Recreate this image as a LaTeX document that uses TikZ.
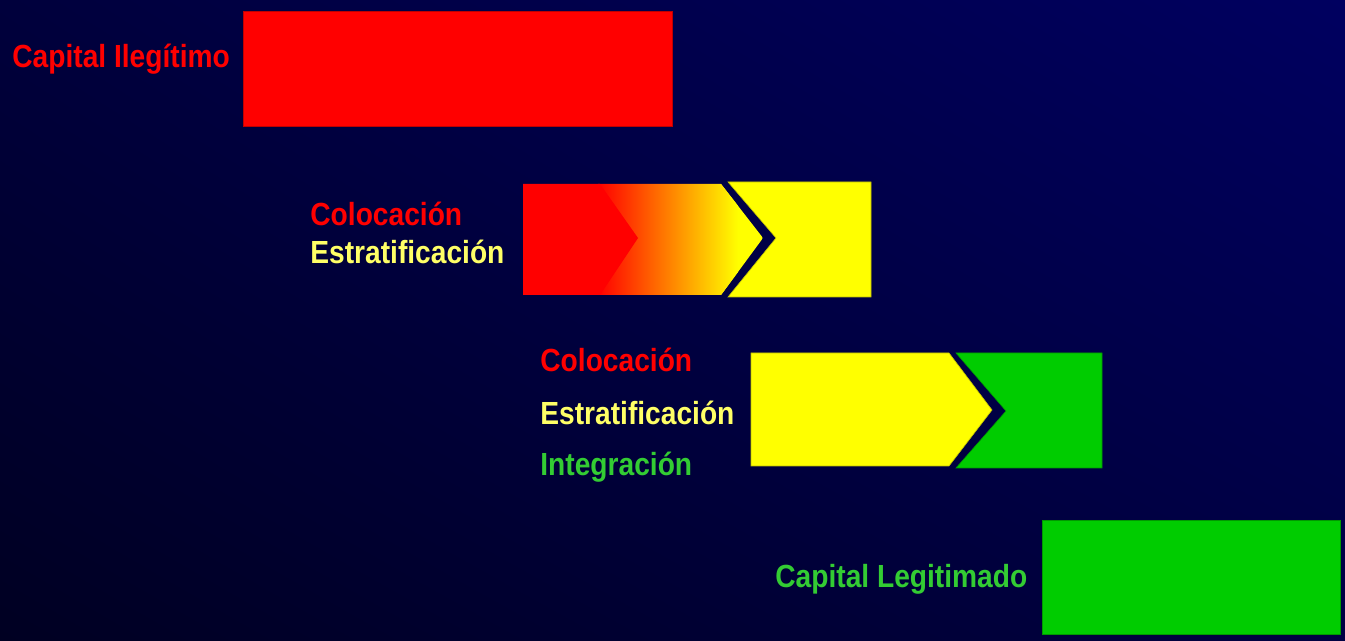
\documentclass[tikz,border=0pt]{standalone}
\usepackage{fontspec}
\setmainfont[FakeStretch=0.88]{Liberation Sans}
\usetikzlibrary{shadings}
\definecolor{bgtopright}{RGB}{0,0,96}
\definecolor{bgtopleft}{RGB}{0,0,60}
\definecolor{bgbotleft}{RGB}{0,0,34}
\definecolor{bgbotright}{RGB}{0,0,66}
\definecolor{boxred}{RGB}{255,0,0}
\definecolor{boxyellow}{RGB}{255,255,0}
\definecolor{boxgreen}{RGB}{0,204,0}
\definecolor{txtyellow}{RGB}{255,255,102}
\definecolor{txtgreen}{RGB}{51,204,51}
\begin{document}
\begin{tikzpicture}[x=0.5pt, y=-0.5pt,
  lbl/.style={font=\bfseries\fontsize{16}{19}\selectfont, anchor=base west, inner sep=0pt},
  redlbl/.style={lbl, text=boxred}, yellowlbl/.style={lbl, text=txtyellow}, greenlbl/.style={lbl, text=txtgreen},
  block/.style={draw=#1!75!black, line width=0.3pt, fill=#1}, ]

  % background
  \shade[upper left=bgtopleft, upper right=bgtopright, lower left=bgbotleft, lower right=bgbotright]
        (0,0) rectangle (1345,641);

  % capital ilegitimo
  \node[redlbl] (ileg) at (12,68) {Capital Ilegítimo};
  \path[block=boxred] (243,11) rectangle (672,126);

  % colocacion -> estratificacion
  \node[redlbl] (coloc1) at (310,226) {Colocación};
  \node[yellowlbl] (estrat1) at (310,264) {Estratificación};
  \begin{scope}
    \clip (523,184) -- (721,184) -- (763,238) -- (721,295) -- (523,295) -- cycle;
    \fill[boxyellow] (523,184) rectangle (763,295);
    \shade[left color=boxred, right color=boxyellow] (598,184) rectangle (738,295);
    \fill[boxred] (523,184) -- (600,184) -- (638,238) -- (600,295) -- (523,295) -- cycle;
  \end{scope}
  \path[block=boxyellow] (728,182) -- (871,182) -- (871,297) -- (728,297) -- (776,238) -- cycle;

  % colocacion, estratificacion -> integracion
  \node[redlbl] (coloc2) at (540,372) {Colocación};
  \node[yellowlbl] (estrat2) at (540,425) {Estratificación};
  \node[greenlbl] (integ) at (540,476) {Integración};
  \path[block=boxyellow] (751,353) -- (949,353) -- (992,410) -- (949,466) -- (751,466) -- cycle;
  \path[block=boxgreen] (956,353) -- (1102,353) -- (1102,468) -- (956,468) -- (1006,411) -- cycle;

  % capital legitimado
  \node[greenlbl] (legit) at (775,588) {Capital Legitimado};
  \path[block=boxgreen] (1042,520) rectangle (1340,634);
\end{tikzpicture}
\end{document}
